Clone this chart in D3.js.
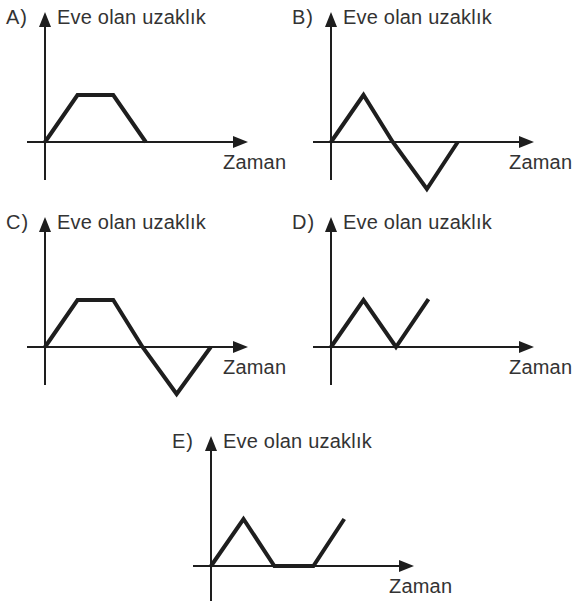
<!DOCTYPE html>
<html>
<head>
<meta charset="utf-8">
<script src="https://cdn.jsdelivr.net/npm/d3@7/dist/d3.min.js"></script>
<style>
  html, body { margin: 0; padding: 0; background: #fff; }
  svg { display: block; }
  text { font-family: "Liberation Sans", Arial, sans-serif; fill: #333; }
</style>
</head>
<body>
<svg id="chart" width="575" height="601"></svg>
<script>
// Distance-from-home vs time sketches, one small graph per option
const panelLabels = ["A)", "B)", "C)", "D)", "E)"];
const yTitle = "Eve olan uzaklık";
const xTitle = "Zaman";

const timesA = [0, 1, 2.1, 3.1];
const distA  = [0, 1, 1, 0];
const timesB = [0, 1, 1.9, 2.95, 3.9];
const distB  = [0, 1, 0, -1, 0];
const timesC = [0, 1, 2.1, 3, 4.05, 5.1];
const distC  = [0, 1, 1, 0, -1, 0];
const timesD = [0, 1, 2, 3];
const distD  = [0, 1, 0, 1.02];
const timesE = [0, 1, 1.95, 3.15, 4.1];
const distE  = [0, 1, 0, 0, 1];

const series = [
  { t: timesA, d: distA },
  { t: timesB, d: distB },
  { t: timesC, d: distC },
  { t: timesD, d: distD },
  { t: timesE, d: distE }
];

// origin of each small graph (where the two axes cross)
const origins = [[45, 142], [331, 142], [45, 347], [331, 347], [211, 566]];

const svg = d3.select("#chart");
const ink = "#1e1e1e";

series.forEach((s, i) => {
  const [ox, oy] = origins[i];
  const g = svg.append("g").attr("transform", `translate(${ox},${oy})`);

  // one time unit ≈ 32.5 px, one distance unit ≈ 47 px
  const x = d3.scaleLinear().domain([0, 6]).range([0, 195]);
  const y = d3.scaleLinear().domain([-1, 1]).range([47, -47]);

  // axes
  g.append("line").attr("x1", -18).attr("x2", 192).attr("y1", 0).attr("y2", 0)
    .attr("stroke", ink).attr("stroke-width", 2);
  g.append("line").attr("x1", 0).attr("x2", 0).attr("y1", 38).attr("y2", -118)
    .attr("stroke", ink).attr("stroke-width", 2);

  // arrow heads
  g.append("path").attr("d", "M203,0 L188,-6 L188,6 Z").attr("fill", ink);
  g.append("path").attr("d", "M0,-130 L-6,-115 L6,-115 Z").attr("fill", ink);

  // data line
  const line = d3.line().x((d, j) => x(s.t[j])).y(d => y(d));
  g.append("path").datum(s.d).attr("d", line)
    .attr("fill", "none").attr("stroke", ink)
    .attr("stroke-width", 4).attr("stroke-linejoin", "miter").attr("stroke-linecap", "butt");

  // texts
  g.append("text").attr("x", -39).attr("y", -118).attr("font-size", 20)
    .attr("letter-spacing", 1).text(panelLabels[i]);
  g.append("text").attr("x", 12).attr("y", -118).attr("font-size", 20)
    .attr("letter-spacing", 0.2).text(yTitle);
  g.append("text").attr("x", 178).attr("y", 27).attr("font-size", 20)
    .attr("letter-spacing", 0.2).text(xTitle);
});
</script>
</body>
</html>
